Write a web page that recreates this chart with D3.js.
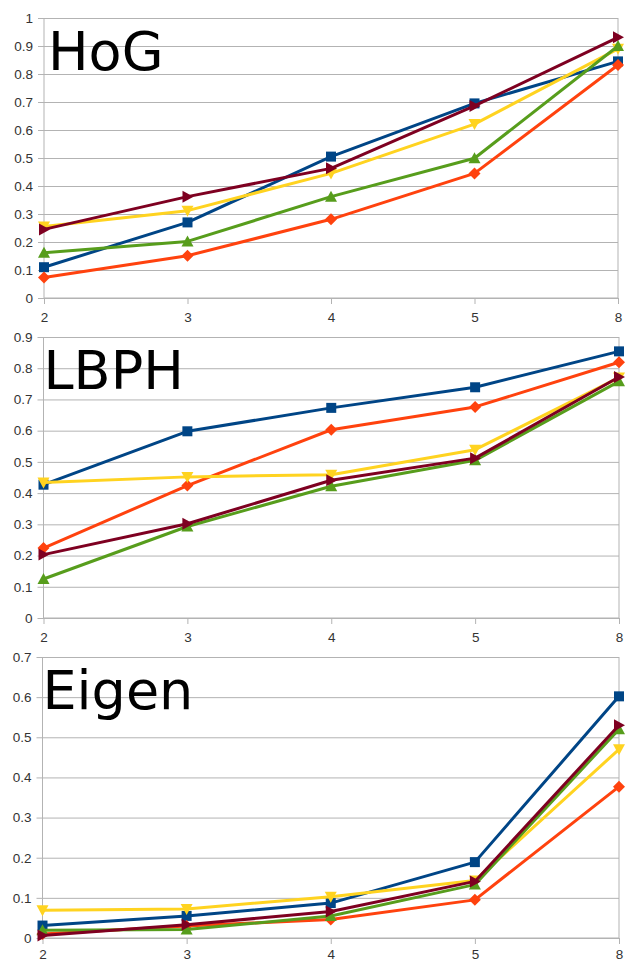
<!DOCTYPE html>
<html><head><meta charset="utf-8">
<script src="https://cdn.jsdelivr.net/npm/d3@7"></script>
<style>html,body{margin:0;padding:0;background:#fff;}svg{display:block;}</style>
</head><body>
<svg id="chart" width="626" height="962"></svg>
<script>
// ---- data ----
const categories = ["2", "3", "4", "5", "8"];
const panelTitles = ["HoG", "LBPH", "Eigen"];
const yMaxes = [1, 0.9, 0.7];
const seriesNames = ["S1", "S2", "S3", "S4", "S5"];
const seriesColors = ["#004586", "#ff420e", "#ffd320", "#579d1c", "#7e0021"];
const seriesMarkers = ["square", "diamond", "down", "up", "right"];

const hogValues = [
  [0.11, 0.27, 0.505, 0.695, 0.845],
  [0.073, 0.151, 0.281, 0.445, 0.832],
  [0.255, 0.312, 0.445, 0.621, 0.89],
  [0.162, 0.202, 0.362, 0.499, 0.9],
  [0.245, 0.362, 0.463, 0.686, 0.931]
];
const lbphValues = [
  [0.427, 0.598, 0.673, 0.739, 0.854],
  [0.224, 0.424, 0.603, 0.676, 0.819],
  [0.434, 0.452, 0.459, 0.539, 0.77],
  [0.125, 0.293, 0.422, 0.505, 0.758],
  [0.203, 0.302, 0.441, 0.512, 0.772]
];
const eigenValues = [
  [0.031, 0.055, 0.087, 0.189, 0.602],
  [0.01, 0.03, 0.046, 0.095, 0.377],
  [0.069, 0.072, 0.103, 0.143, 0.47],
  [0.019, 0.021, 0.055, 0.133, 0.52],
  [0.006, 0.033, 0.066, 0.141, 0.53]
];
const panelValues = [hogValues, lbphValues, eigenValues];

// ---- layout ----
const layouts = [
  {x0: 44, x1: 618, top: 18, bottom: 298, pad: 8},
  {x0: 43.5, x1: 619, top: 337, bottom: 618, pad: 8},
  {x0: 42.5, x1: 619, top: 657, bottom: 938, pad: 5}
];

const svg = d3.select("#chart");
const gridColor = "#b3b3b3";

function markerPath(type, s) {
  const h = s / 2;
  switch (type) {
    case "square": return `M${-h},${-h}H${h}V${h}H${-h}Z`;
    case "diamond": { const d = h * 1.2; return `M0,${-d}L${d},0L0,${d}L${-d},0Z`; }
    case "up": return `M0,${-h - 1}L${h + 1},${h}L${-h - 1},${h}Z`;
    case "down": return `M0,${h + 1}L${h + 1},${-h}L${-h - 1},${-h}Z`;
    case "right": return `M${h + 1},0L${-h},${-h - 1}L${-h},${h + 1}Z`;
  }
}

panelValues.forEach((values, pi) => {
  const L = layouts[pi];
  const x = d3.scalePoint().domain(categories).range([L.x0, L.x1]);
  const y = d3.scaleLinear().domain([0, yMaxes[pi]]).range([L.bottom, L.top]);
  const g = svg.append("g");

  const yTicks = d3.range(0, yMaxes[pi] + 1e-9, 0.1).map(v => +v.toFixed(1));

  // horizontal grid + y axis with outer ticks
  const yAxis = d3.axisLeft(y).tickValues(yTicks).tickSize(-(L.x1 - L.x0)).tickPadding(11)
    .tickFormat(d => d === 0 ? "0" : d3.format("")(d));
  const ya = g.append("g").attr("transform", `translate(${L.x0},0)`).call(yAxis);
  ya.select(".domain").remove();
  ya.selectAll(".tick line").attr("stroke", gridColor).attr("x1", -6);
  ya.selectAll(".tick text").attr("fill", "#333").attr("font-family", "Liberation Sans, Arial, sans-serif").attr("font-size", 13.5);

  // x axis
  const xAxis = d3.axisBottom(x).tickSize(6).tickPadding(L.pad);
  const xa = g.append("g").attr("transform", `translate(0,${L.bottom})`).call(xAxis);
  xa.select(".domain").attr("stroke", gridColor).attr("d", `M${L.x0},0H${L.x1}`);
  xa.selectAll(".tick line").attr("stroke", gridColor);
  xa.selectAll(".tick text").attr("fill", "#333").attr("font-family", "Liberation Sans, Arial, sans-serif").attr("font-size", 13.5);

  // vertical borders at the first and last categories
  [categories[0], categories[categories.length - 1]].forEach(c => {
    g.append("line").attr("x1", x(c)).attr("x2", x(c)).attr("y1", y(yMaxes[pi])).attr("y2", L.bottom)
      .attr("stroke", gridColor).attr("stroke-width", 1);
  });

  // title
  g.append("text").attr("x", L.x0 + (pi === 0 ? 4 : 0)).attr("y", L.top + 52)
    .attr("font-family", "DejaVu Sans, sans-serif").attr("font-size", 54).attr("fill", "#000")
    .text(panelTitles[pi]);

  const line = d3.line().x((d, i) => x(categories[i])).y(d => y(d));
  values.forEach((vals, si) => {
    const sg = g.append("g");
    sg.append("path").datum(vals).attr("d", line).attr("fill", "none")
      .attr("stroke", seriesColors[si]).attr("stroke-width", 3).attr("stroke-linejoin", "round");
    sg.selectAll("path.m").data(vals).enter().append("path").attr("class", "m")
      .attr("transform", (d, i) => `translate(${x(categories[i])},${y(d)})`)
      .attr("d", markerPath(seriesMarkers[si], 10)).attr("fill", seriesColors[si]);
  });
});
</script>
</body></html>
